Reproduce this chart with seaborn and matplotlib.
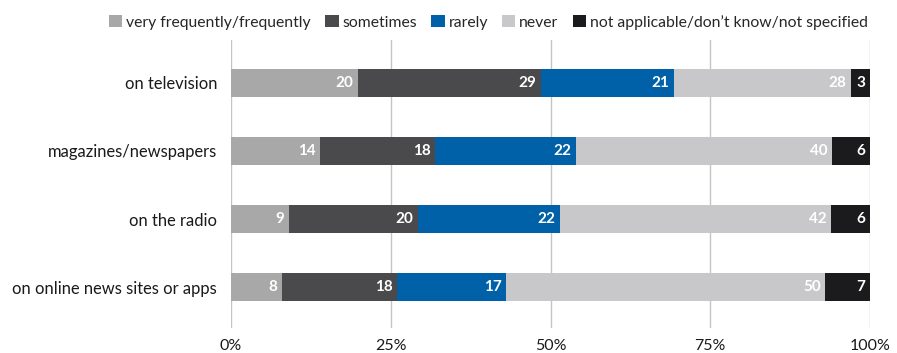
import numpy as np
import pandas as pd
import matplotlib
matplotlib.use("Agg")
import matplotlib.pyplot as plt
from matplotlib.patches import Patch
import seaborn as sns

categories = ["on television", "magazines/newspapers", "on the radio", "on online news sites or apps"]
series = ["very frequently/frequently", "sometimes", "rarely", "never", "not applicable/don\u2019t know/not specified"]
very_frequently = [20, 14, 9, 8]
sometimes = [29, 18, 20, 18]
rarely = [21, 22, 22, 17]
never = [28, 40, 42, 50]
not_applicable = [3, 6, 6, 7]
colors = ["#a8a8a9", "#4a4a4c", "#0060a8", "#c8c8ca", "#1b1a1c"]
tick_labels = ["0%", "25%", "50%", "75%", "100%"]

sns.set_theme(style="white")
plt.rcParams["font.family"] = ["Lato", "DejaVu Sans"]

vals = np.array([very_frequently, sometimes, rarely, never, not_applicable], dtype=float)
shares = vals / vals.sum(axis=0) * 100
cum = np.cumsum(shares, axis=0)

fig = plt.figure(figsize=(8.97, 3.53), dpi=100)
ax = fig.add_axes([231 / 897, 1 - 328 / 353, (870 - 231) / 897, (328 - 40) / 353])

for x in [0, 25, 50, 75, 100]:
    ax.axvline(x, color="#c4c4c4", lw=1.0, zorder=0)

for i in range(len(series) - 1, -1, -1):
    df = pd.DataFrame({"cat": categories, "val": cum[i]})
    sns.barplot(data=df, y="cat", x="val", color=colors[i], orient="h",
                width=0.41, ax=ax, saturation=1, zorder=2, linewidth=0, edgecolor="none")

for i in range(len(series)):
    for j in range(len(categories)):
        ax.text(cum[i, j] - 0.7, j, f"{int(vals[i, j])}", ha="right", va="center",
                color="white", fontsize=11, fontweight="bold", zorder=5)

ax.set_xlim(0, 100)
ax.set_ylim(3.6, -0.63)
ax.set_xticks([0, 25, 50, 75, 100])
ax.set_xticklabels(tick_labels)
ax.set_xlabel("")
ax.set_ylabel("")
for s in ax.spines.values():
    s.set_visible(False)
ax.tick_params(axis="x", length=0, pad=8, labelsize=11.5, colors="#1a1a1a")
ax.tick_params(axis="y", length=0, pad=10, labelsize=11.9, colors="#1a1a1a")

handles = [Patch(facecolor=c, edgecolor="none") for c in colors]
fig.legend(handles, series, loc="upper right", bbox_to_anchor=(0.978, 0.985), ncol=5,
           frameon=False, fontsize=11.3, handlelength=0.85, handleheight=0.85,
           handletextpad=0.25, columnspacing=0.9, borderaxespad=0.2)

fig.savefig("out.png", dpi=100)
